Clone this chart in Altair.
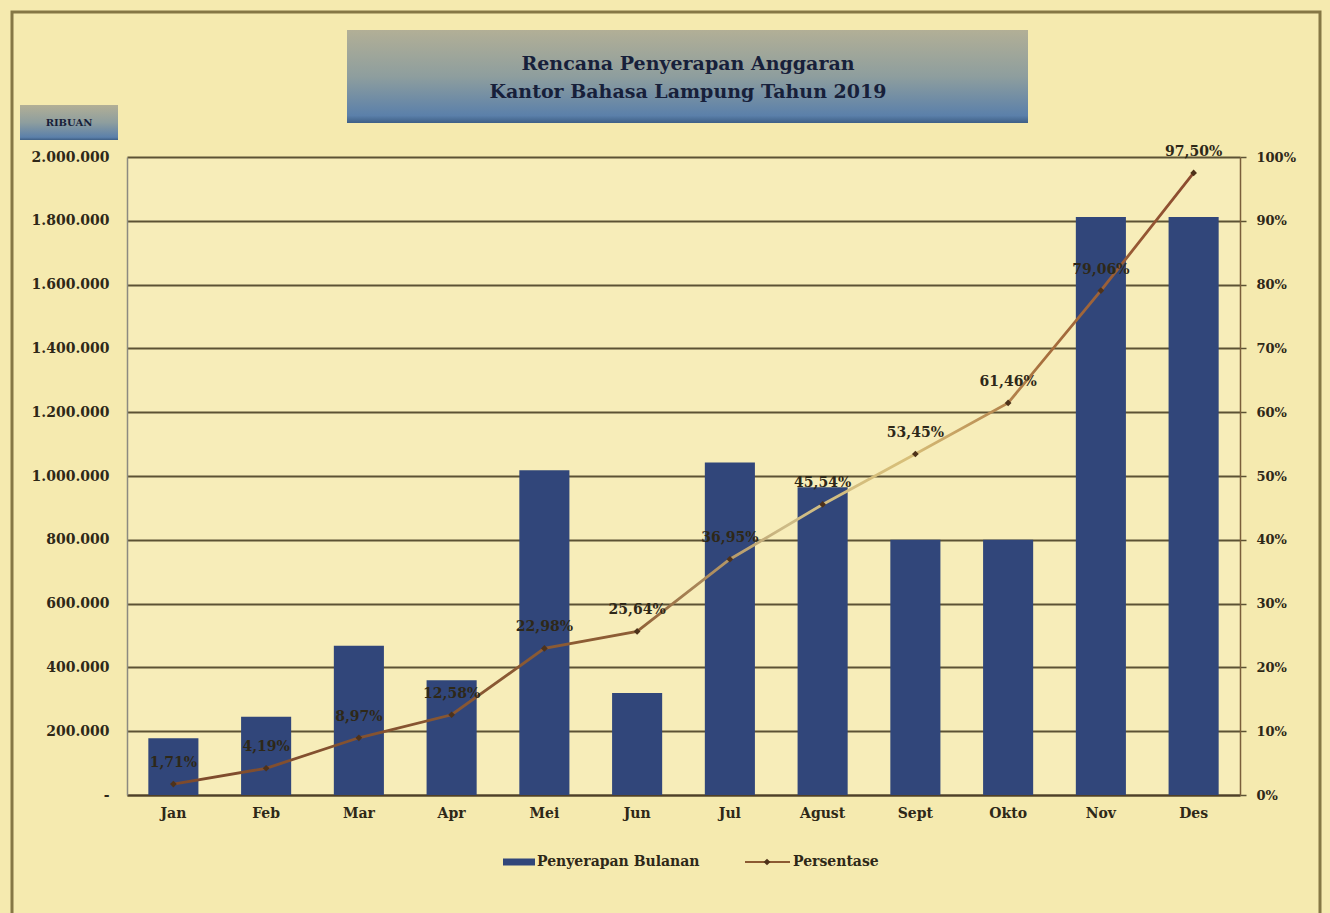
import altair as alt
import pandas as pd

# ---------------- data ----------------
months = ["Jan", "Feb", "Mar", "Apr", "Mei", "Jun", "Jul", "Agust", "Sept", "Okto", "Nov", "Des"]
monthly = [178000, 245000, 468000, 360000, 1018000, 320000, 1042000, 965000, 800000, 800000, 1812000, 1812000]
percent = [1.71, 4.19, 8.97, 12.58, 22.98, 25.64, 36.95, 45.54, 53.45, 61.46, 79.06, 97.50]
left_ticks = [0, 200000, 400000, 600000, 800000, 1000000, 1200000, 1400000, 1600000, 1800000, 2000000]
right_ticks = [0, 10, 20, 30, 40, 50, 60, 70, 80, 90, 100]
title_lines = ["Rencana Penyerapan Anggaran", "Kantor Bahasa Lampung Tahun 2019"]
unit_label = "RIBUAN"
legend_labels = ["Penyerapan Bulanan", "Persentase"]

pct_labels = [f"{v:.2f}".replace(".", ",") + "%" for v in percent]
df = pd.DataFrame({"Bulan": months, "Nilai": monthly, "Persen": percent, "Label": pct_labels})
one = pd.DataFrame({"k": [0]})

# ---------------- styles ----------------
FONT = "DejaVu Serif"
NAVY = "#31467A"
BROWN = "#8B5A32"
TXT = "#2E2818"
GRID = "#5C5234"
BG = "#F5EAAF"
PLOT_BG = "#F7EDB9"

x_enc = alt.X(
    "Bulan:N", sort=months,
    scale=alt.Scale(paddingInner=0.46, paddingOuter=0.23),
    axis=alt.Axis(title=None, labelAngle=0, labelFont=FONT, labelFontSize=14, labelFontWeight="bold",
                  labelColor=TXT, labelPadding=11, ticks=False, domainColor="#4F4028", domainWidth=2),
)

bars = alt.Chart(df).mark_bar(color=NAVY).encode(
    x=x_enc,
    y=alt.Y("Nilai:Q", scale=alt.Scale(domain=[0, 2000000], nice=False),
            axis=alt.Axis(title=None, orient="left", values=left_ticks, grid=True,
                          gridColor=GRID, gridWidth=1.8, gridOpacity=1,
                          labelExpr="datum.value == 0 ? '-' : replace(replace(format(datum.value, ','), ',', '.'), ',', '.')",
                          labelFont=FONT, labelFontSize=14, labelFontWeight="bold", labelColor=TXT,
                          labelPadding=18, ticks=False, domainColor="#8C8A80", domainWidth=1.5)),
)

line_grad = alt.Gradient(
    gradient="linear",
    stops=[alt.GradientStop(color="#7E4A2C", offset=0),
           alt.GradientStop(color="#8E5E35", offset=0.45),
           alt.GradientStop(color="#CDBB86", offset=0.6),
           alt.GradientStop(color="#D8BF78", offset=0.72),
           alt.GradientStop(color="#A8703E", offset=0.85),
           alt.GradientStop(color="#8B4A2E", offset=1)],
    x1=0, x2=1, y1=0, y2=0,
)

y_pct = alt.Y("Persen:Q", scale=alt.Scale(domain=[0, 100], nice=False),
              axis=alt.Axis(title=None, orient="right", values=right_ticks, grid=False,
                            labelExpr="datum.value + '%'", labelFont=FONT, labelFontSize=13,
                            labelFontWeight="bold", labelColor=TXT, labelPadding=10,
                            ticks=True, tickSize=6, tickColor=GRID, tickWidth=1.5,
                            domainColor="#7A5E3A", domainWidth=1.5))
y_pct_noaxis = alt.Y("Persen:Q", scale=alt.Scale(domain=[0, 100], nice=False), axis=None)

line = alt.Chart(df).mark_line(stroke=line_grad, strokeWidth=2.8).encode(x=x_enc, y=y_pct)
pts = alt.Chart(df).mark_point(shape="diamond", filled=True, size=45, color="#4E321A", opacity=1).encode(
    x=x_enc, y=y_pct_noaxis)
labels = alt.Chart(df).mark_text(font=FONT, fontSize=14, fontWeight="bold", color=TXT, dy=-21).encode(
    x=x_enc, y=y_pct_noaxis, text="Label:N")

# ---------------- decorations ----------------
frame = alt.Chart(one).mark_rect(fillOpacity=0, stroke="#857745", strokeWidth=3).encode(
    x=alt.value(-115), x2=alt.value(1193), y=alt.value(-145), y2=alt.value(770))

title_grad = alt.Gradient(
    gradient="linear",
    stops=[alt.GradientStop(color="#B2AF96", offset=0),
           alt.GradientStop(color="#8E9E9E", offset=0.5),
           alt.GradientStop(color="#5B80AA", offset=0.92),
           alt.GradientStop(color="#3E5F86", offset=1)],
    x1=0, x2=0, y1=0, y2=1,
)
title_box = alt.Chart(one).mark_rect(fill=title_grad).encode(
    x=alt.value(220), x2=alt.value(901), y=alt.value(-127), y2=alt.value(-34))
title1 = alt.Chart(one).mark_text(text=title_lines[0], font=FONT, fontSize=19, fontWeight="bold",
                                  color="#17203A").encode(x=alt.value(561), y=alt.value(-93))
title2 = alt.Chart(one).mark_text(text=title_lines[1], font=FONT, fontSize=19, fontWeight="bold",
                                  color="#17203A").encode(x=alt.value(561), y=alt.value(-65))

unit_box = alt.Chart(one).mark_rect(fill=title_grad).encode(
    x=alt.value(-107), x2=alt.value(-9), y=alt.value(-52), y2=alt.value(-17))
unit_txt = alt.Chart(one).mark_text(text=unit_label, font=FONT, fontSize=10, fontWeight="bold",
                                    color="#17203A").encode(x=alt.value(-58), y=alt.value(-34))

leg_bar = alt.Chart(one).mark_rule(color=NAVY, strokeWidth=7).encode(
    x=alt.value(376), x2=alt.value(408), y=alt.value(705))
leg_txt1 = alt.Chart(one).mark_text(text=legend_labels[0], font=FONT, fontSize=14, fontWeight="bold",
                                    color=TXT, align="left").encode(x=alt.value(410), y=alt.value(705))
leg_line = alt.Chart(one).mark_rule(color=BROWN, strokeWidth=2).encode(
    x=alt.value(618), x2=alt.value(663), y=alt.value(705))
leg_pt = alt.Chart(one).mark_point(shape="diamond", filled=True, size=45, color="#4E321A", opacity=1).encode(
    x=alt.value(640), y=alt.value(705))
leg_txt2 = alt.Chart(one).mark_text(text=legend_labels[1], font=FONT, fontSize=14, fontWeight="bold",
                                    color=TXT, align="left").encode(x=alt.value(666), y=alt.value(705))

chart = alt.layer(
    frame, title_box, title1, title2, unit_box, unit_txt,
    bars, line, pts, labels,
    leg_bar, leg_txt1, leg_line, leg_pt, leg_txt2,
).resolve_scale(y="independent").properties(
    width=1113, height=638,
    autosize=alt.AutoSizeParams(type="none"),
    padding={"left": 127, "top": 157, "right": 90, "bottom": 118},
).configure(background=BG).configure_view(fill=PLOT_BG, stroke="transparent")

chart.save("out.html", embed_options={"renderer": "svg", "actions": False})
